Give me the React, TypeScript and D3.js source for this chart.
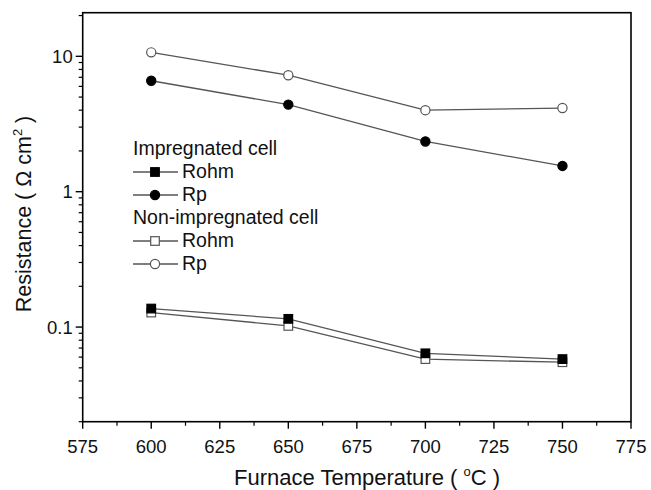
import React from "react";
import * as d3 from "d3";

const temps = [600, 650, 700, 750];
const impRohm = [0.137, 0.115, 0.064, 0.058];
const impRp = [6.6, 4.4, 2.35, 1.55];
const nonRohm = [0.128, 0.102, 0.058, 0.055];
const nonRp = [10.7, 7.25, 4.0, 4.15];

const xTicks = [575, 600, 625, 650, 675, 700, 725, 750, 775];
const yMajor = [0.1, 1, 10];

const W = 651, H = 490;
const L = 82.7, R = 631, T = 12.7, B = 421.7;
const FONT = "'Liberation Sans', Arial, sans-serif";
const LINE = "#555";

type S = { name: string; vals: number[]; shape: "square" | "circle"; filled: boolean };
const series: S[] = [
  { name: "nonRp", vals: nonRp, shape: "circle", filled: false },
  { name: "impRp", vals: impRp, shape: "circle", filled: true },
  { name: "nonRohm", vals: nonRohm, shape: "square", filled: false },
  { name: "impRohm", vals: impRohm, shape: "square", filled: true },
];

function Marker({ x, y, shape, filled }: { x: number; y: number; shape: string; filled: boolean }) {
  const fill = filled ? "#000" : "#fff";
  const stroke = filled ? "#000" : LINE;
  if (shape === "circle") return <circle cx={x} cy={y} r={4.6} fill={fill} stroke={stroke} strokeWidth={1.2} />;
  return <rect x={x - 4.3} y={y - 4.3} width={8.6} height={8.6} fill={fill} stroke={stroke} strokeWidth={1.2} />;
}

export default function App() {
  const x = d3.scaleLinear().domain([575, 775]).range([L, R]);
  const y = d3.scaleLog().domain([0.02, 21]).range([B, T]);
  const line = d3.line<number>().x((_, i) => x(temps[i])).y((d) => y(d));

  const yMinor: number[] = [];
  [0.01, 0.1, 1, 10].forEach((dec) => {
    for (let k = 2; k <= 9; k++) {
      const v = dec * k;
      if (v >= 0.02 && v <= 21 && !yMajor.includes(v)) yMinor.push(v);
    }
  });
  const xMinor = xTicks.slice(0, -1).map((t) => t + 12.5);

  const legend = [
    { label: "Impregnated cell" },
    { label: "Rohm", shape: "square", filled: true },
    { label: "Rp", shape: "circle", filled: true },
    { label: "Non-impregnated cell" },
    { label: "Rohm", shape: "square", filled: false },
    { label: "Rp", shape: "circle", filled: false },
  ];

  return (
    <svg width={W} height={H} style={{ position: "absolute", left: 0, top: 0, background: "#fff" }} fontFamily={FONT}>
      <rect x={0} y={0} width={W} height={H} fill="#fff" />
      {series.map((s) => (
        <path key={s.name} d={line(s.vals) || ""} fill="none" stroke={LINE} strokeWidth={1.3} />
      ))}
      {series.map((s) =>
        s.vals.map((v, i) => <Marker key={s.name + i} x={x(temps[i])} y={y(v)} shape={s.shape} filled={s.filled} />)
      )}
      <rect x={L} y={T} width={R - L} height={B - T} fill="none" stroke="#000" strokeWidth={1.6} />
      {xTicks.map((t) => (
        <g key={"xt" + t}>
          <line x1={x(t)} x2={x(t)} y1={B} y2={B + 7} stroke="#000" strokeWidth={1.4} />
          <text x={x(t)} y={453} fontSize={18.5} textAnchor="middle" fill="#111">{t}</text>
        </g>
      ))}
      {xMinor.map((t) => (
        <line key={"xm" + t} x1={x(t)} x2={x(t)} y1={B} y2={B + 4} stroke="#000" strokeWidth={1.2} />
      ))}
      {yMajor.map((t) => (
        <g key={"yt" + t}>
          <line x1={L - 7} x2={L} y1={y(t)} y2={y(t)} stroke="#000" strokeWidth={1.4} />
          <text x={L - 10} y={y(t) + 6.5} fontSize={18.5} textAnchor="end" fill="#111">{t}</text>
        </g>
      ))}
      {yMinor.map((t) => (
        <line key={"ym" + t} x1={L - 4} x2={L} y1={y(t)} y2={y(t)} stroke="#000" strokeWidth={1.2} />
      ))}
      <text x={367} y={484.5} fontSize={22} textAnchor="middle" fill="#111" style={{ whiteSpace: "pre" }}>
        {"Furnace Temperature ( "}
        <tspan dy={-9} fontSize={13}>o</tspan>
        <tspan dy={9}>{"C )"}</tspan>
      </text>
      <text transform="translate(31,214) rotate(-90)" fontSize={21.5} textAnchor="middle" fill="#111" style={{ whiteSpace: "pre" }}>
        {"Resistance ( Ω cm"}
        <tspan dy={-9} fontSize={13}>2</tspan>
        <tspan dy={9}>{" )"}</tspan>
      </text>
      {legend.map((e, i) => {
        const by = 155 + 23 * i;
        if (!e.shape) return <text key={"lg" + i} x={133} y={by} fontSize={19.5} fill="#111">{e.label}</text>;
        return (
          <g key={"lg" + i}>
            <line x1={133} x2={178} y1={by - 6} y2={by - 6} stroke={LINE} strokeWidth={1.3} />
            <Marker x={155} y={by - 6} shape={e.shape} filled={!!e.filled} />
            <text x={182} y={by} fontSize={19.5} fill="#111">{e.label}</text>
          </g>
        );
      })}
    </svg>
  );
}
